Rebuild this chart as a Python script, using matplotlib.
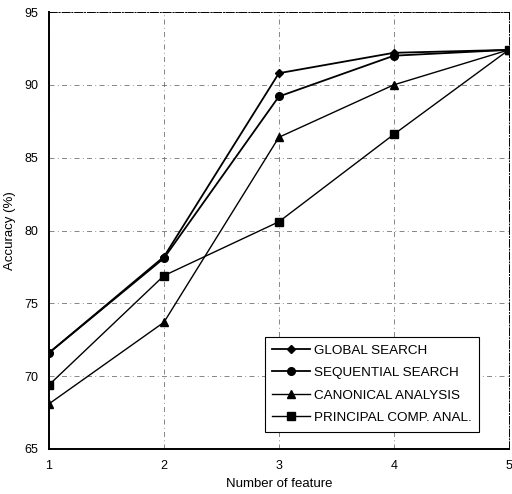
import matplotlib.pyplot as plt

plt.rcParams['font.family'] = ['Liberation Sans', 'DejaVu Sans']

# Data
n_features = [1, 2, 3, 4, 5]
global_search = [71.6, 78.2, 90.8, 92.2, 92.4]
sequential_search = [71.6, 78.1, 89.2, 92.0, 92.4]
canonical_analysis = [68.1, 73.7, 86.4, 90.0, 92.4]
principal_comp = [69.4, 76.9, 80.6, 86.6, 92.4]

fig = plt.figure(figsize=(5.12, 4.94), dpi=100)
ax = fig.add_axes([0.0957, 0.0911, 0.898, 0.8846])

ax.plot(n_features, global_search, 'k-', marker='D', markersize=4.5, lw=1.3, label='GLOBAL SEARCH')
ax.plot(n_features, sequential_search, 'k-', marker='o', markersize=5.5, lw=1.3, label='SEQUENTIAL SEARCH')
ax.plot(n_features, canonical_analysis, 'k-', marker='^', markersize=5.5, lw=1.0, label='CANONICAL ANALYSIS')
ax.plot(n_features, principal_comp, 'k-', marker='s', markersize=5.5, lw=1.0, label='PRINCIPAL COMP. ANAL.')

ax.set_xlim(1, 5)
ax.set_ylim(65, 95)
ax.set_xticks([1, 2, 3, 4, 5])
ax.set_yticks([65, 70, 75, 80, 85, 90, 95])
ax.grid(True, color='0.45', linestyle=(0, (6, 4, 1, 4)), linewidth=0.6)
ax.tick_params(direction='in', length=0, labelsize=9, pad=8)

for side in ['left', 'bottom']:
    ax.spines[side].set_linewidth(1.4)
for side in ['top', 'right']:
    ax.spines[side].set_linewidth(0.7)
    ax.spines[side].set_linestyle((0, (8, 2, 1, 2)))

ax.set_xlabel('Number of feature', fontsize=9.5, labelpad=4)
ax.set_ylabel('Accuracy (%)', fontsize=9.5, labelpad=6)

leg = ax.legend(loc='lower right', bbox_to_anchor=(0.935, 0.04), fontsize=9.7,
                frameon=True, fancybox=False, edgecolor='black', framealpha=1,
                handlelength=2.8, borderpad=0.55, labelspacing=0.75, handletextpad=0.3,
                borderaxespad=0)
leg.get_frame().set_linewidth(0.8)

fig.savefig('out.png', dpi=100)
